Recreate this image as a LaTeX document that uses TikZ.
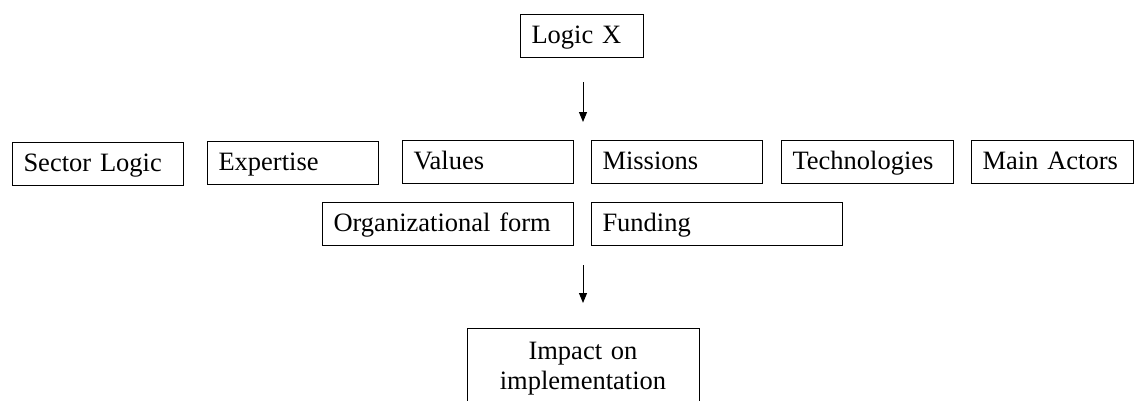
\documentclass[tikz,border=0pt]{standalone}
\usepackage{fontspec}
\setmainfont{Liberation Serif}
\usetikzlibrary{arrows.meta}

\begin{document}
\begin{tikzpicture}[x=1pt, y=-1pt,
		box/.style={draw, line width=1pt, anchor=north west, inner xsep=11pt, inner ysep=4pt,
			minimum height=43pt, align=left, text height=19pt, text depth=4pt,
			font=\fontsize{26.5}{30}\selectfont},
		arr/.style={-{Triangle[length=10pt, width=8pt]}, line width=1pt}]
		\useasboundingbox (0,0) rectangle (1134,400);

		% Logikk øverst
		\node[box, text width=101pt] (logicx) at (520,14) {Logic X};

		% Første rad med elementer
		\node[box, text width=149pt] (sector) at (12,142) {Sector Logic};
		\node[box, text width=149pt] (expertise) at (207,141) {Expertise};
		\node[box, text width=149pt] (values) at (402,140) {Values};
		\node[box, text width=149pt] (missions) at (591,140) {Missions};
		\node[box, text width=150pt] (tech) at (781,140) {Technologies};
		\node[box, text width=140pt] (actors) at (971,140) {Main Actors};

		% Andre rad
		\node[box, text width=229pt] (orgform) at (322,202) {Organizational form};
		\node[box, text width=229pt] (funding) at (591,202) {Funding};

		% Virkning nederst
		\node[box, anchor=north, text width=210pt, align=center, inner ysep=14pt, minimum height=0pt,
			text depth=, text height=] (impact) at (583,328) {Impact on\\implementation};

		% Piler
		\draw[arr, shorten <=24pt, shorten >=18pt] (impact.north |- logicx.south) -- (impact.north |- values.north);
		\draw[arr, shorten <=19pt, shorten >=25pt] (impact.north |- funding.south) -- (impact.north);
	\end{tikzpicture}
\end{document}
